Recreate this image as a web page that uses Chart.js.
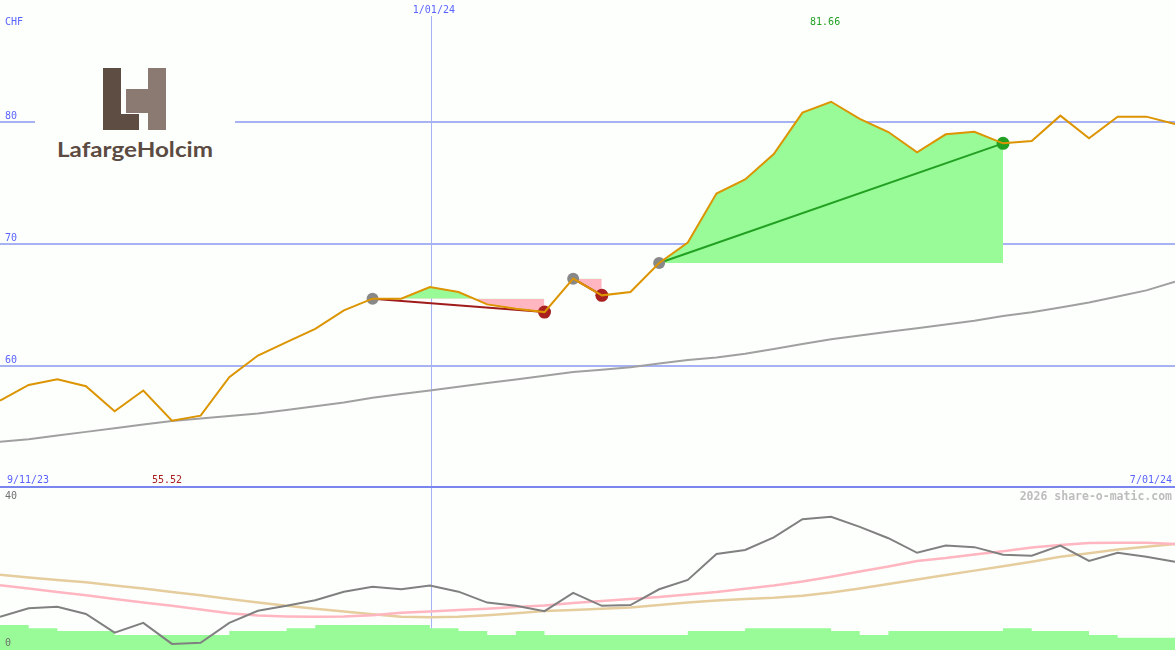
<!DOCTYPE html>
<html>
<head>
<meta charset="utf-8">
<title>LafargeHolcim CHF</title>
<script src="https://cdn.jsdelivr.net/npm/chart.js@4.4.1/dist/chart.umd.min.js"></script>
<style>
  html, body { margin: 0; padding: 0; background: #fdfffd; }
  #wrap { position: relative; width: 1175px; height: 650px; overflow: hidden; }
  #priceChart { position: absolute; left: 0; top: 0; }
  #lowerChart { position: absolute; left: 0; top: 488px; }
  #logo { position: absolute; left: 35px; top: 60px; background: #fdfffd; }
</style>
</head>
<body>
<div id="wrap">
  <canvas id="priceChart" width="1175" height="488"></canvas>
  <canvas id="lowerChart" width="1175" height="162"></canvas>
  <svg id="logo" width="200" height="112" viewBox="0 0 200 112">
    <rect x="68" y="8" width="18" height="62" fill="#5e4d43"/>
    <rect x="86" y="54" width="18" height="16" fill="#5e4d43"/>
    <rect x="113" y="8" width="18" height="62" fill="#8a7a72"/>
    <rect x="91" y="29" width="22" height="24" fill="#8a7a72"/>
    <text x="22" y="97" font-family="Lato" font-weight="700" font-size="21" fill="#5c4b42"
          textLength="156" lengthAdjust="spacingAndGlyphs">LafargeHolcim</text>
  </svg>
</div>

<script>
// weekly closes, CHF
const priceCHF = [57.17, 58.45, 58.92, 58.34, 56.29, 57.99, 55.52, 55.93, 59.08, 60.86,
                  61.96, 63.05, 64.56, 65.52, 65.52, 66.47, 66.06, 65.05, 64.70, 64.42,
                  67.16, 65.79, 66.06, 68.44, 70.12, 74.14, 75.29, 77.37, 80.77, 81.66,
                  80.25, 79.18, 77.51, 78.99, 79.20, 78.25, 78.44, 80.52, 78.66, 80.44,
                  80.44, 79.84];
// long moving average (grey)
const longAverage = [53.8, 54.0, 54.3, 54.6, 54.9, 55.2, 55.5, 55.7, 55.9, 56.1,
                     56.4, 56.7, 57.0, 57.4, 57.7, 58.0, 58.3, 58.6, 58.9, 59.2,
                     59.5, 59.7, 59.9, 60.2, 60.5, 60.7, 61.0, 61.4, 61.8, 62.2,
                     62.5, 62.8, 63.1, 63.4, 63.7, 64.1, 64.4, 64.8, 65.2, 65.7,
                     66.2, 66.9];

// signals: entry week -> exit week
const tradeEntry = [13, 20, 23];
const tradeExit = [19, 21, 35];

// lower panel
const oscillator = [8.2, 10.3, 10.7, 8.9, 4.3, 6.7, 1.5, 1.8, 6.7, 9.7,
                    10.9, 12.3, 14.4, 15.6, 15.0, 15.9, 14.4, 11.7, 10.9, 9.6,
                    14.1, 10.9, 11.1, 15.0, 17.3, 23.7, 24.7, 27.8, 32.3, 32.9,
                    30.4, 27.6, 24.0, 25.8, 25.4, 23.5, 23.3, 25.8, 22.0, 24.0,
                    23.0, 21.8];
const oscFast = [16.0, 15.2, 14.3, 13.5, 12.6, 11.7, 10.9, 10.0, 9.1, 8.5,
                 8.3, 8.2, 8.3, 8.6, 9.2, 9.5, 9.9, 10.2, 10.6, 11.0,
                 11.6, 12.1, 12.6, 13.1, 13.7, 14.3, 15.1, 15.9, 16.9, 18.1,
                 19.4, 20.6, 22.0, 22.7, 23.6, 24.4, 25.3, 25.9, 26.4, 26.5,
                 26.5, 26.2];
const oscSlow = [18.6, 17.9, 17.3, 16.7, 15.9, 15.2, 14.3, 13.5, 12.6, 11.7,
                 10.9, 10.2, 9.5, 8.8, 8.2, 8.1, 8.2, 8.6, 9.1, 9.6,
                 9.9, 10.2, 10.5, 11.1, 11.7, 12.2, 12.6, 12.9, 13.4, 14.2,
                 15.2, 16.3, 17.4, 18.5, 19.6, 20.7, 21.8, 23.0, 23.9, 24.8,
                 25.5, 26.2];
// one bar per week interval
const volume = [5.4, 6.2, 5.4, 4.7, 4.7, 3.7, 3.7, 3.7, 3.7, 4.7,
                4.7, 5.4, 6.2, 6.2, 6.2, 6.2, 5.4, 4.7, 3.7, 4.7,
                3.7, 3.7, 3.7, 3.7, 3.7, 4.7, 4.7, 5.4, 5.4, 5.4,
                4.7, 3.7, 4.7, 4.7, 4.7, 4.7, 5.4, 4.7, 4.7, 3.7, 3.0];

const gridLevels = [80, 70, 60];
const priceRange = [50, 90];
const lowerRange = [0, 40];
const startLabel = '9/11/23';
const endLabel = '7/01/24';
const yearLabel = '1/01/24';
const yearIndex = 15;
const currency = 'CHF';

const weeks = priceCHF.map((_, i) => i);
const BLUE_TXT = '#5a64ff';
const GRID = '#a6b2f4';
const MONO = '"DejaVu Sans Mono", monospace';

const maxIdx = priceCHF.indexOf(Math.max(...priceCHF));
const minIdx = priceCHF.indexOf(Math.min(...priceCHF));

// fills, trade lines and signal dots built from the price series
const tradeSets = [];
tradeEntry.forEach((s, k) => {
    const e = tradeExit[k];
    const level = priceCHF[s];
    tradeSets.push({
        data: priceCHF.map((v, i) => (i >= s && i <= e ? v : null)),
        fill: { target: { value: level }, above: '#98fb98', below: '#ffb6c1' },
        borderWidth: 0, borderColor: 'transparent', pointRadius: 0, order: 5
    });
    const gain = priceCHF[e] > level;
    tradeSets.push({
        data: priceCHF.map((v, i) => (i === s || i === e ? v : null)),
        spanGaps: true, borderColor: gain ? '#22a022' : '#a01c1c',
        borderWidth: 2, pointRadius: 0, fill: false, order: 3
    });
});
const dotColor = priceCHF.map((v, i) => {
    const k = tradeExit.indexOf(i);
    if (k >= 0) return priceCHF[i] > priceCHF[tradeEntry[k]] ? '#22a022' : '#a82020';
    return '#888888';
});
const dotRadius = priceCHF.map((v, i) => (tradeExit.includes(i) ? 6.5 : 6));
const dotSet = {
    data: priceCHF.map((v, i) => (tradeEntry.includes(i) || tradeExit.includes(i) ? v : null)),
    showLine: false, pointRadius: dotRadius, pointBackgroundColor: dotColor,
    pointBorderWidth: 0, order: 2
};

function text(ctx, str, x, y, color, align, font) {
    ctx.font = font || '10px ' + MONO;
    ctx.fillStyle = color;
    ctx.textAlign = align || 'left';
    ctx.textBaseline = 'alphabetic';
    ctx.fillText(str, x, y);
}

const priceDecor = {
    id: 'priceDecor',
    beforeDatasetsDraw(chart) {
        const { ctx, chartArea: a, scales: { x, y } } = chart;
        ctx.save();
        ctx.strokeStyle = GRID;
        ctx.lineWidth = 2;
        gridLevels.forEach(v => {
            const py = Math.round(y.getPixelForValue(v));
            ctx.beginPath(); ctx.moveTo(a.left, py); ctx.lineTo(a.right, py); ctx.stroke();
        });
        const jx = Math.round(x.getPixelForValue(yearIndex)) + 1.5;
        ctx.lineWidth = 1;
        ctx.beginPath(); ctx.moveTo(jx, 16); ctx.lineTo(jx, a.bottom); ctx.stroke();
        ctx.fillStyle = '#7a86f0';
        ctx.fillRect(a.left, a.bottom - 2, a.right - a.left, 2);
        ctx.restore();
    },
    afterDraw(chart) {
        const { ctx, chartArea: a, scales: { x, y } } = chart;
        ctx.save();
        text(ctx, currency, 5, 25, BLUE_TXT);
        gridLevels.forEach(v => text(ctx, String(v), 5, Math.round(y.getPixelForValue(v)) - 3, BLUE_TXT));
        text(ctx, yearLabel, x.getPixelForValue(yearIndex) + 4, 13, BLUE_TXT, 'center');
        text(ctx, priceCHF[maxIdx].toFixed(2), x.getPixelForValue(maxIdx) - 6, 25, '#22a022', 'center');
        text(ctx, priceCHF[minIdx].toFixed(2), x.getPixelForValue(minIdx) - 5, a.bottom - 5, '#aa2020', 'center');
        text(ctx, startLabel, 7, a.bottom - 5, BLUE_TXT);
        text(ctx, endLabel, a.right - 3, a.bottom - 5, BLUE_TXT, 'right');
        ctx.restore();
    }
};

const lowerDecor = {
    id: 'lowerDecor',
    beforeDatasetsDraw(chart) {
        const { ctx, chartArea: a, scales: { x } } = chart;
        ctx.save();
        ctx.strokeStyle = GRID;
        ctx.lineWidth = 1;
        const jx = Math.round(x.getPixelForValue(yearIndex)) + 1.5;
        ctx.beginPath(); ctx.moveTo(jx, a.top); ctx.lineTo(jx, a.bottom); ctx.stroke();
        ctx.restore();
    },
    afterDraw(chart) {
        const { ctx, chartArea: a } = chart;
        ctx.save();
        text(ctx, String(lowerRange[1]), 5, 11, '#707070');
        text(ctx, String(lowerRange[0]), 5, a.bottom - 4, '#707070');
        text(ctx, '2026 share-o-matic.com', a.right - 3, 12, '#bdbdbd', 'right', 'bold 11.5px ' + MONO);
        ctx.restore();
    }
};

const hidden = { display: false };
const baseOptions = (range) => ({
    responsive: false,
    animation: false,
    devicePixelRatio: 1,
    layout: { padding: 0, autoPadding: false },
    plugins: { legend: hidden, tooltip: { enabled: false } },
    scales: {
        x: { type: 'category', offset: false, display: false },
        y: { min: range[0], max: range[1], display: false }
    }
});

new Chart(document.getElementById('priceChart'), {
    type: 'line',
    data: {
        labels: weeks,
        datasets: [
            { data: priceCHF, borderColor: '#dc9400', borderWidth: 2, pointRadius: 0, fill: false, order: 1 },
            dotSet,
            ...tradeSets,
            { data: longAverage, borderColor: '#a0a0a0', borderWidth: 2, pointRadius: 0, fill: false, order: 4 }
        ]
    },
    options: baseOptions(priceRange),
    plugins: [priceDecor]
});

// volume drawn as a stepped area: each weekly value holds until the next week
const volumeSteps = [...volume, volume[volume.length - 1]];

new Chart(document.getElementById('lowerChart'), {
    type: 'line',
    data: {
        labels: weeks,
        datasets: [
            { data: oscillator, borderColor: '#808080', borderWidth: 2, pointRadius: 0, fill: false, order: 1 },
            { data: oscFast, borderColor: '#ffb6c1', borderWidth: 2.5, pointRadius: 0, fill: false, order: 2 },
            { data: oscSlow, borderColor: '#e6cd9e', borderWidth: 2.5, pointRadius: 0, fill: false, order: 3 },
            { data: volumeSteps, stepped: 'after', borderWidth: 0, borderColor: 'transparent',
              backgroundColor: '#98fb98', fill: 'origin', pointRadius: 0, order: 4 }
        ]
    },
    options: baseOptions(lowerRange),
    plugins: [lowerDecor]
});
</script>
</body>
</html>
